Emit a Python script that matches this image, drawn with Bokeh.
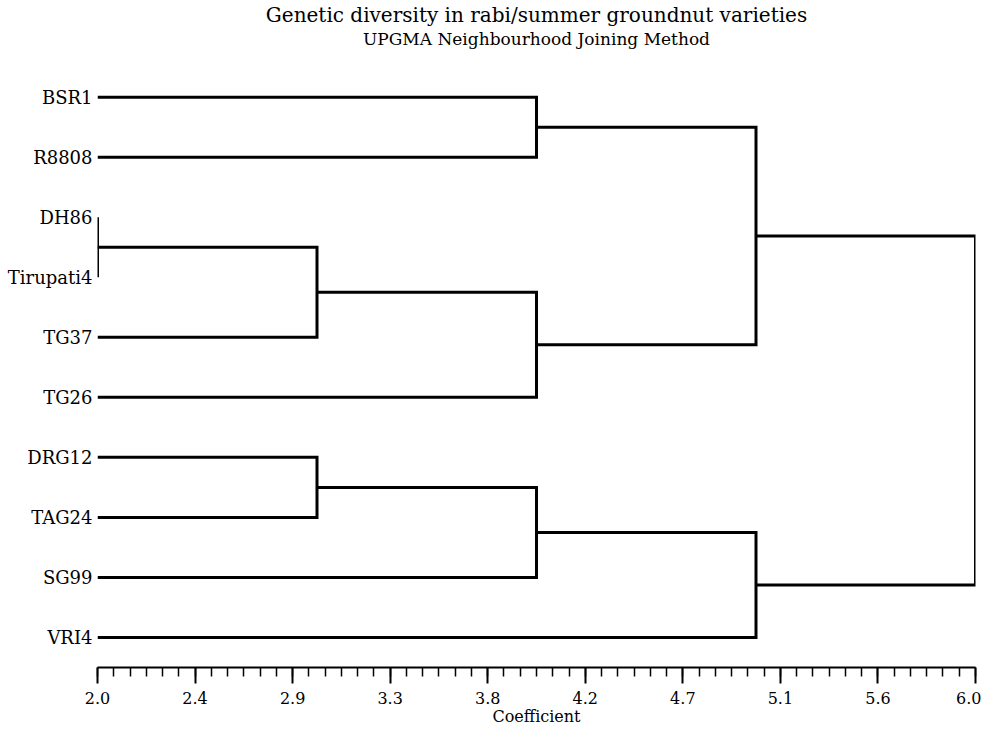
from bokeh.plotting import figure
from bokeh.models import Range1d, FixedTicker, Title
from bokeh.embed import file_html
from bokeh.resources import INLINE

# ---- data ----
leaves = ["BSR1", "R8808", "DH86", "Tirupati4", "TG37", "TG26",
          "DRG12", "TAG24", "SG99", "VRI4"]
leaf_height = 2.0
# merges: (left cluster id, right cluster id, coefficient); new cluster ids start at len(leaves)
merge_left = [2, 10, 6, 0, 11, 12, 13, 15, 16]
merge_right = [3, 4, 7, 1, 5, 8, 14, 9, 17]
merge_height = [2.0, 3.0, 3.0, 4.0, 4.0, 4.0, 5.0, 5.0, 6.0]
tick_values = [2.0 + 4.0 * k / 9 for k in range(10)]
tick_labels = ["2.0", "2.4", "2.9", "3.3", "3.8", "4.2", "4.7", "5.1", "5.6", "6.0"]
minor_values = [2.0 + 4.0 * k / 54 for k in range(55)]

FONT = "DejaVu Serif"

# cluster positions
pos_y = {i: float(i) for i in range(len(leaves))}
pos_h = {i: leaf_height for i in range(len(leaves))}
xs, ys = [], []
for k, (a, b, h) in enumerate(zip(merge_left, merge_right, merge_height)):
    cid = len(leaves) + k
    xs.append([pos_h[a], h, h, pos_h[b]])
    ys.append([pos_y[a], pos_y[a], pos_y[b], pos_y[b]])
    pos_y[cid] = (pos_y[a] + pos_y[b]) / 2
    pos_h[cid] = h

W, H = 981, 728
top_idx = -0.81
p = figure(width=W, height=H, output_backend="svg", toolbar_location=None,
           x_range=Range1d(2.0, 6.0), y_range=Range1d(9.5, top_idx),
           min_border_left=97, min_border_right=6, min_border_bottom=61,
           min_border_top=0)
p.add_layout(Title(text="UPGMA Neighbourhood Joining Method", align="center",
                   text_font=FONT, text_font_size="17px", text_font_style="normal",
                   text_color="black", standoff=0), "above")
p.add_layout(Title(text="Genetic diversity in rabi/summer groundnut varieties", align="center",
                   text_font=FONT, text_font_size="20px", text_font_style="normal",
                   text_color="black", standoff=0), "above")

p.multi_line(xs=xs, ys=ys, line_color="black", line_width=3, line_join="miter")

p.outline_line_color = None
p.grid.visible = False

xa = p.xaxis[0]
xa.ticker = FixedTicker(ticks=tick_values, minor_ticks=minor_values)
xa.major_label_overrides = {v: l for v, l in zip(tick_values, tick_labels)}
xa.axis_line_width = 2
xa.axis_line_color = "black"
xa.major_tick_in = 0
xa.major_tick_out = 16
xa.minor_tick_in = 0
xa.minor_tick_out = 9
xa.major_tick_line_width = 2
xa.minor_tick_line_width = 1.5
xa.major_label_text_font = FONT
xa.major_label_text_font_size = "16px"
xa.major_label_text_color = "black"
xa.major_label_standoff = 8
xa.axis_label = "Coefficient"
xa.axis_label_text_font = FONT
xa.axis_label_text_font_size = "16px"
xa.axis_label_text_font_style = "normal"
xa.axis_label_text_color = "black"
xa.axis_label_standoff = 0

ya = p.yaxis[0]
ya.ticker = FixedTicker(ticks=list(range(len(leaves))))
ya.major_label_overrides = {i: n for i, n in enumerate(leaves)}
ya.axis_line_color = None
ya.major_tick_line_color = None
ya.minor_tick_line_color = None
ya.major_tick_out = 0
ya.major_tick_in = 0
ya.major_label_standoff = 5
ya.major_label_text_font = FONT
ya.major_label_text_font_size = "18px"
ya.major_label_text_color = "black"

open("out.html", "w").write(file_html(p, INLINE))
